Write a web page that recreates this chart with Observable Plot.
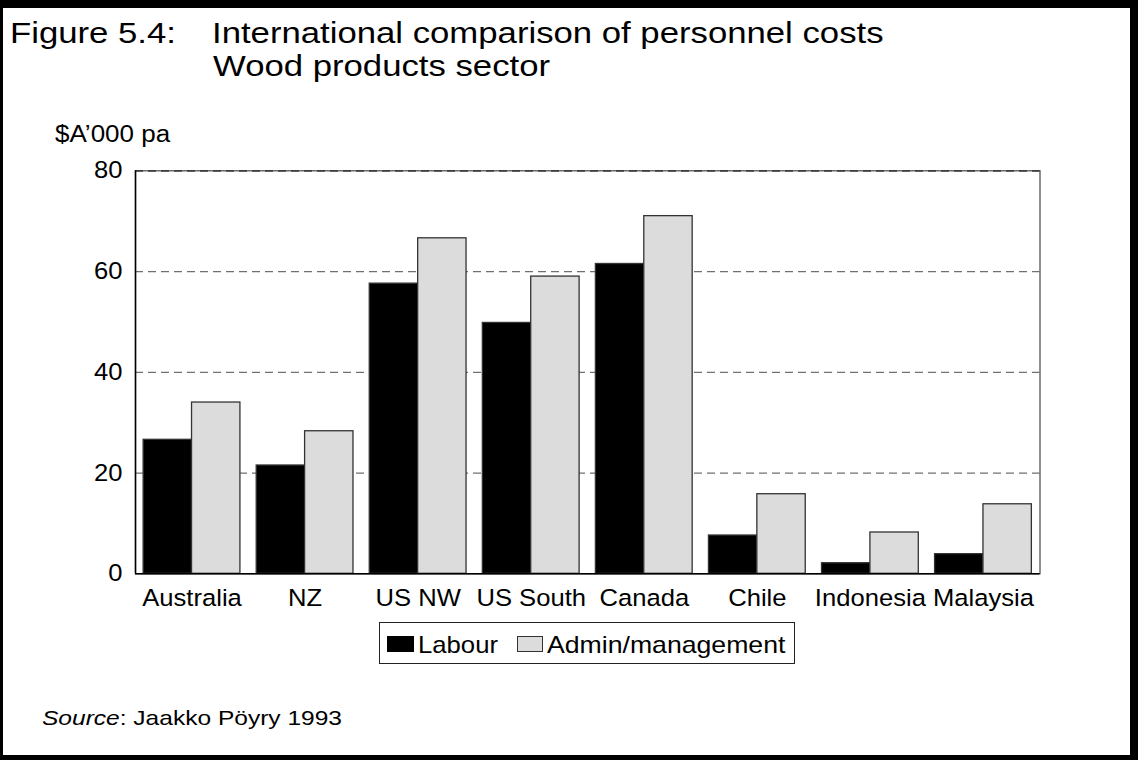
<!DOCTYPE html>
<html>
<head>
<meta charset="utf-8">
<script src="https://cdn.jsdelivr.net/npm/d3@7"></script>
<script src="https://cdn.jsdelivr.net/npm/@observablehq/plot@0.6"></script>
<style>
  html, body { margin: 0; padding: 0; background: #fff; }
  #page { position: relative; width: 1138px; height: 760px; overflow: hidden; background: #fff;
          font-family: "Liberation Sans", Arial, Helvetica, sans-serif; color: #000; }
  #border { position: absolute; left: 0; top: 0; width: 1138px; height: 760px; box-sizing: border-box;
            border-style: solid; border-color: #000; border-width: 8px 8px 5px 3px; z-index: 10; }
  .txt { position: absolute; white-space: nowrap; transform-origin: 0 0; }
  .sw { position: absolute; box-sizing: border-box; }
  #chart svg { position: absolute; left: 0; top: 0; overflow: visible; }
</style>
</head>
<body>
<div id="page">
  <div id="chart"></div>
  <div id="border"></div>
</div>
<script>
// Personnel costs, $A'000 per year, by country
const countries = ["Australia", "NZ", "US NW", "US South", "Canada", "Chile", "Indonesia", "Malaysia"];
const labour = [26.6, 21.5, 57.6, 49.8, 61.5, 7.6, 2.1, 3.9];
const admin = [34.0, 28.3, 66.6, 59.0, 71.0, 15.8, 8.2, 13.8];
const seriesNames = ["Labour", "Admin/management"];
const seriesColors = ["#000000", "#dcdcdc"];
const yTicks = [0, 20, 40, 60, 80];
const gridTicks = [20, 40, 60, 80];

const page = document.getElementById("page");
const FONT = '"Liberation Sans", Arial, Helvetica, sans-serif';

// Place a text line by its baseline; k stretches it horizontally
function addText(parts, x, baseline, fs, k) {
  const el = document.createElement("div");
  el.className = "txt";
  el.style.left = x + "px";
  el.style.top = (baseline - 0.8465 * fs) + "px";
  el.style.fontSize = fs + "px";
  el.style.lineHeight = fs + "px";
  el.style.transform = `scaleX(${k})`;
  for (const p of parts) {
    const s = document.createElement("span");
    s.textContent = p.text;
    if (p.italic) s.style.fontStyle = "italic";
    el.appendChild(s);
  }
  page.appendChild(el);
  return el;
}

// Title block
addText([{text: "Figure 5.4:"}], 10, 43.5, 29, 1.197);
addText([{text: "International comparison of personnel costs"}], 212, 43.5, 29, 1.197);
addText([{text: "Wood products sector"}], 213, 77, 29, 1.197);

// Unit label above the value axis
addText([{text: "$A\u2019000 pa"}], 55, 142, 23, 1.13);

// Rows: one bar per country and series
const rows = countries.flatMap((c, i) => [
  {country: c, i, s: 0, series: seriesNames[0], value: labour[i]},
  {country: c, i, s: 1, series: seriesNames[1], value: admin[i]}
]);

const groupFrac = 0.856;          // share of each country slot taken by its pair of bars
const barFrac = groupFrac / 2;

const chart = Plot.plot({
  width: 1138,
  height: 640,
  marginLeft: 135,
  marginRight: 98.5,
  marginTop: 170.3,
  marginBottom: 66.7,
  style: {background: "transparent", fontFamily: FONT, fontSize: "23.5px", color: "#000"},
  x: {type: "linear", domain: [-0.5, countries.length - 0.5]},
  y: {domain: [0, 80]},
  color: {domain: seriesNames, range: seriesColors},
  marks: [
    Plot.ruleY(gridTicks, {stroke: "#707070", strokeWidth: 1.2, strokeDasharray: "8,5"}),
    Plot.rectY(rows, {
      x1: d => d.i - groupFrac / 2 + d.s * barFrac,
      x2: d => d.i - groupFrac / 2 + (d.s + 1) * barFrac,
      y1: 0,
      y2: "value",
      fill: "series",
      stroke: "#333",
      strokeWidth: 1.3
    }),
    Plot.frame({stroke: "#555", strokeWidth: 1.3}),
    Plot.ruleY([80], {stroke: "#333", strokeWidth: 1.3, strokeDasharray: "8,5"}),
    Plot.ruleY([0], {stroke: "#000", strokeWidth: 1.5}),
    Plot.ruleX([-0.5], {stroke: "#000", strokeWidth: 1.5}),
    Plot.axisX({
      ticks: d3.range(countries.length),
      tickFormat: i => countries[i],
      tickSize: 0,
      tickPadding: 16,
      fontSize: 23.5
    }),
    Plot.axisY({ticks: yTicks, tickSize: 0, tickPadding: 13, fontSize: 23.5, label: null})
  ]
});

// Slightly widen the axis lettering
chart.querySelectorAll('g[aria-label$="tick label"] text').forEach(t => {
  const tr = t.getAttribute("transform") || "";
  t.setAttribute("transform", tr + " scale(1.09,1)");
});
document.getElementById("chart").appendChild(chart);

// Legend box
const legend = document.createElement("div");
legend.className = "sw";
Object.assign(legend.style, {left: "379px", top: "622px", width: "416px", height: "42px", border: "1.3px solid #222"});
page.appendChild(legend);

const sw1 = document.createElement("div");
sw1.className = "sw";
Object.assign(sw1.style, {left: "387px", top: "636px", width: "27px", height: "16px", background: seriesColors[0]});
page.appendChild(sw1);
addText([{text: seriesNames[0]}], 418, 653.5, 24, 1.07);

const sw2 = document.createElement("div");
sw2.className = "sw";
Object.assign(sw2.style, {left: "517px", top: "636px", width: "26px", height: "16px", background: seriesColors[1], border: "1.3px solid #333"});
page.appendChild(sw2);
addText([{text: seriesNames[1]}], 547, 653.5, 24, 1.11);

// Source line
addText([{text: "Source", italic: true}, {text: ": Jaakko P\u00f6yry 1993"}], 42, 725, 21, 1.168);
</script>
</body>
</html>
